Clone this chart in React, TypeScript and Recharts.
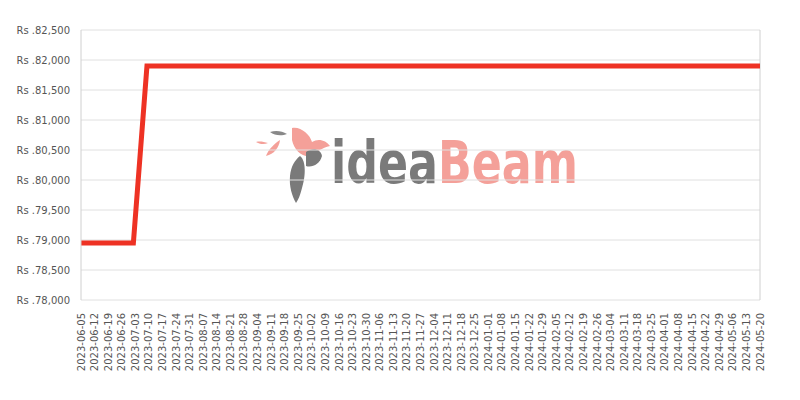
import { LineChart, Line, XAxis, YAxis, CartesianGrid, ReferenceLine } from "recharts"

// weekly tick labels on the x axis
const weekLabels = [
  "2023-06-05", "2023-06-12", "2023-06-19", "2023-06-26", "2023-07-03", "2023-07-10",
  "2023-07-17", "2023-07-24", "2023-07-31", "2023-08-07", "2023-08-14", "2023-08-21",
  "2023-08-28", "2023-09-04", "2023-09-11", "2023-09-18", "2023-09-25", "2023-10-02",
  "2023-10-09", "2023-10-16", "2023-10-23", "2023-10-30", "2023-11-06", "2023-11-13",
  "2023-11-20", "2023-11-27", "2023-12-04", "2023-12-11", "2023-12-18", "2023-12-25",
  "2024-01-01", "2024-01-08", "2024-01-15", "2024-01-22", "2024-01-29", "2024-02-05",
  "2024-02-12", "2024-02-19", "2024-02-26", "2024-03-04", "2024-03-11", "2024-03-18",
  "2024-03-25", "2024-04-01", "2024-04-08", "2024-04-15", "2024-04-22", "2024-04-29",
  "2024-05-06", "2024-05-13", "2024-05-20",
]

// price change points (date -> price)
const priceDates = ["2023-06-05", "2023-07-02", "2023-07-09", "2024-05-20"]
const prices = [78950, 78950, 81900, 81900]

const yTicks = [78000, 78500, 79000, 79500, 80000, 80500, 81000, 81500, 82000, 82500]

const toTs = (d: string) => Date.parse(d + "T00:00:00Z")
const fmtDate = (ts: number) => new Date(ts).toISOString().slice(0, 10)

const chartData = priceDates.map((d, i) => ({ ts: toTs(d), price: prices[i] }))
const xTicks = weekLabels.map(toTs)

const FONT = "'DejaVu Sans', sans-serif"

const DateTick = ({ x, y, payload }: any) => (
  <g transform={`translate(${x},${y})`}>
    <text transform="rotate(-90)" textAnchor="end" dy="0.35em" fill="#555" fontSize={10} fontFamily={FONT}>
      {fmtDate(payload.value)}
    </text>
  </g>
)

// watermark logo behind the chart
function Watermark() {
  return (
    <svg width={800} height={400} style={{ position: "absolute", left: 0, top: 0 }}>
      <path d="M292,128 C300,126 310,134 312,142 C318,138 326,140 330,146 C322,148 316,152 312,156 C302,158 294,150 292,140 Z" fill="#f4a099" />
      <path d="M270,132 C276,130 282,131 287,134 C282,136 275,136 270,132 Z" fill="#888" />
      <path d="M256,142 C260,141 264,142 268,143 C264,145 259,144 256,142 Z" fill="#f4a099" />
      <path d="M266,156 C268,150 274,144 280,140 C279,148 274,154 266,156 Z" fill="#f4a099" />
      <path d="M300,156 C306,160 306,176 302,188 C300,196 298,200 296,203 C292,196 289,186 290,176 C291,166 295,160 300,156 Z" fill="#7a7a7a" />
      <path d="M306,152 C312,148 320,148 322,156 C320,164 312,168 306,166 Z" fill="#7a7a7a" />
      <text x={331} y={183} fontSize={58} fontWeight={600} fontFamily={FONT} textLength={247} lengthAdjust="spacingAndGlyphs">
        <tspan fill="#7a7a7a">idea</tspan>
        <tspan fill="#f4a099">Beam</tspan>
      </text>
    </svg>
  )
}

export default function App() {
  return (
    <div style={{ position: "relative", width: 800, height: 400, margin: -8, background: "#fff" }}>
      <Watermark />
      <div style={{ position: "absolute", left: 0, top: 0 }}>
        <LineChart width={800} height={400} data={chartData} margin={{ top: 30, right: 40, left: 0, bottom: 0 }}>
          <CartesianGrid vertical={false} stroke="#e0e0e0" strokeWidth={1} />
          <XAxis
            dataKey="ts"
            type="number"
            scale="time"
            domain={[xTicks[0], xTicks[xTicks.length - 1]]}
            ticks={xTicks}
            interval={0}
            height={100}
            tickLine={false}
            axisLine={false}
            tickSize={0}
            tickMargin={13}
            tick={<DateTick />}
          />
          <YAxis
            domain={[78000, 82500]}
            ticks={yTicks}
            interval={0}
            width={81}
            tickLine={false}
            axisLine={{ stroke: "#d0d0d0" }}
            tickSize={0}
            tickMargin={11}
            tick={{ fill: "#555", fontSize: 10, fontFamily: FONT }}
            tickFormatter={(v: number) => "Rs ." + v.toLocaleString("en-US")}
          />
          <ReferenceLine x={xTicks[xTicks.length - 1]} stroke="#d0d0d0" />
          <Line
            type="linear"
            dataKey="price"
            stroke="#ee3224"
            strokeWidth={5}
            dot={false}
            activeDot={false}
            isAnimationActive={false}
          />
        </LineChart>
      </div>
    </div>
  )
}
